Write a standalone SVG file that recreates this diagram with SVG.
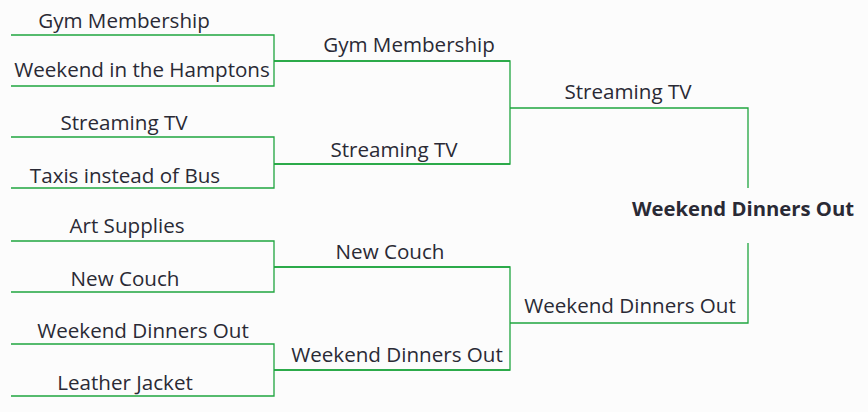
<svg xmlns="http://www.w3.org/2000/svg" width="868" height="412" viewBox="0 0 868 412">
<style>
.t{font-family:"Open Sans","Noto Sans",sans-serif;font-size:20.6px;fill:#2a2a35;text-anchor:middle}
.b{font-weight:bold;font-size:20.3px}
.c{fill:none;stroke:#1fa53f;stroke-width:1.3}
</style>
<rect width="868" height="412" fill="#fcfcfc"/>
<g id="connectors">
<path class="c" d="M11 35H274V86H11M274 61H510"/>
<path class="c" d="M11 137H274V188H11M274 164H510"/>
<path class="c" d="M11 241H274V292H11M274 267H510"/>
<path class="c" d="M11 344H274V396H11M274 370H510"/>
<path class="c" d="M274 61H510V164H274M510 108H748V188"/>
<path class="c" d="M274 267H510V370H274M510 323H748V243"/>
</g>
<g id="r1a"><text class="t" x="124" y="28">Gym Membership</text></g>
<g id="r1b"><text class="t" x="142" y="77">Weekend in the Hamptons</text></g>
<g id="r1c"><text class="t" x="124" y="130">Streaming TV</text></g>
<g id="r1d"><text class="t" x="125" y="183">Taxis instead of Bus</text></g>
<g id="r1e"><text class="t" x="127" y="233">Art Supplies</text></g>
<g id="r1f"><text class="t" x="125" y="286">New Couch</text></g>
<g id="r1g"><text class="t" x="143" y="338">Weekend Dinners Out</text></g>
<g id="r1h"><text class="t" x="125" y="390">Leather Jacket</text></g>
<g id="r2a"><text class="t" x="409" y="52">Gym Membership</text></g>
<g id="r2b"><text class="t" x="394" y="157">Streaming TV</text></g>
<g id="r2c"><text class="t" x="390" y="259">New Couch</text></g>
<g id="r2d"><text class="t" x="397" y="362">Weekend Dinners Out</text></g>
<g id="r3a"><text class="t" x="628" y="99">Streaming TV</text></g>
<g id="r3b"><text class="t" x="630" y="313">Weekend Dinners Out</text></g>
<g id="final"><text class="t b" x="743" y="216">Weekend Dinners Out</text></g>
</svg>
